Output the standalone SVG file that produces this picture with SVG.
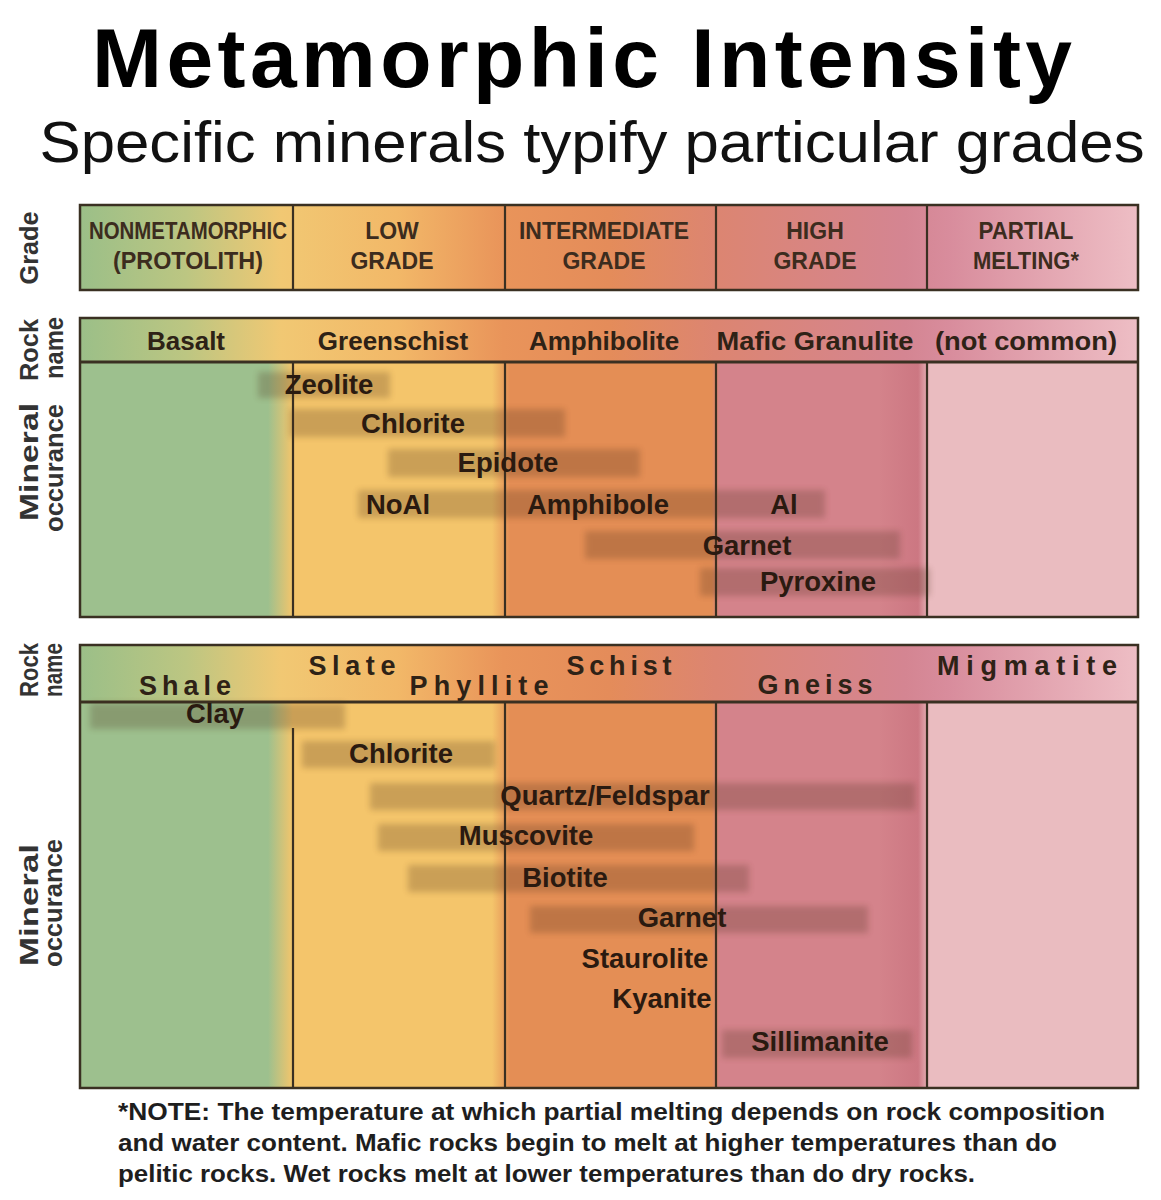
<svg xmlns="http://www.w3.org/2000/svg" width="1161" height="1200" viewBox="0 0 1161 1200">
<defs>
  <style>
    .ttl{font-family:"Liberation Sans",Arial,sans-serif;font-weight:bold;fill:#000}
    .sub{font-family:"Liberation Sans",Arial,sans-serif;fill:#111}
    .side{font-family:"Liberation Sans",Arial,sans-serif;font-weight:bold;font-size:26px;fill:#333;text-anchor:middle}
    .grade{font-family:"Liberation Sans",Arial,sans-serif;font-weight:bold;font-size:23px;fill:#3c2c1e;text-anchor:middle}
    .rock{font-family:"Liberation Sans",Arial,sans-serif;font-weight:bold;font-size:26px;fill:#2e2216;text-anchor:middle}
    .rock2{font-family:"Liberation Sans",Arial,sans-serif;font-weight:bold;font-size:27px;fill:#2e2216;text-anchor:middle}
    .min{font-family:"Liberation Sans",Arial,sans-serif;font-weight:bold;font-size:27.5px;fill:#2a1a10;text-anchor:middle}
    .note{font-family:"Liberation Sans",Arial,sans-serif;font-weight:bold;font-size:24.5px;fill:#1e1e1e}
    .frame{fill:none;stroke:#3a3022;stroke-width:2.5}
    .div{stroke:#3a3022;stroke-width:2.2}
    .sep{stroke:#3a3022;stroke-width:3}
    .bar{fill:#4a2a14;opacity:0.24}
  </style>
  <linearGradient id="hdr" gradientUnits="userSpaceOnUse" x1="80" y1="0" x2="1138" y2="0">
    <stop offset="0" stop-color="#9bbf88"/>
    <stop offset="0.10" stop-color="#bcc682"/>
    <stop offset="0.19" stop-color="#f1c873"/>
    <stop offset="0.30" stop-color="#f2b868"/>
    <stop offset="0.40" stop-color="#e9945a"/>
    <stop offset="0.50" stop-color="#e48c5a"/>
    <stop offset="0.60" stop-color="#dc8571"/>
    <stop offset="0.78" stop-color="#d48592"/>
    <stop offset="0.82" stop-color="#d88c9c"/>
    <stop offset="1" stop-color="#eebec5"/>
  </linearGradient>
  <linearGradient id="body" gradientUnits="userSpaceOnUse" x1="80" y1="0" x2="1138" y2="0">
    <stop offset="0" stop-color="#9dc08e"/>
    <stop offset="0.1777" stop-color="#9dc08e"/>
    <stop offset="0.2013" stop-color="#f4c56b"/>
    <stop offset="0.3894" stop-color="#f4c56b"/>
    <stop offset="0.4064" stop-color="#e48e55"/>
    <stop offset="0.5974" stop-color="#e48e55"/>
    <stop offset="0.6049" stop-color="#d4838b"/>
    <stop offset="0.755" stop-color="#d4838b"/>
    <stop offset="0.7921" stop-color="#cc7782"/>
    <stop offset="0.8034" stop-color="#eabcc0"/>
    <stop offset="1" stop-color="#eabcc0"/>
  </linearGradient>
  <filter id="blur" x="-20%" y="-60%" width="140%" height="220%">
    <feGaussianBlur stdDeviation="3"/>
  </filter>
</defs>

<rect x="0" y="0" width="1161" height="1200" fill="#ffffff"/>

<g id="title">
  <text class="ttl" x="582" y="87" font-size="84" text-anchor="middle" textLength="980" lengthAdjust="spacing">Metamorphic Intensity</text>
  <text class="sub" x="592" y="162" font-size="58" text-anchor="middle" textLength="1105" lengthAdjust="spacingAndGlyphs">Specific minerals typify particular grades</text>
</g>

<g id="side-labels">
  <text class="side" transform="translate(38,248) rotate(-90)" textLength="73" lengthAdjust="spacingAndGlyphs">Grade</text>
  <text class="side" transform="translate(38,350) rotate(-90)" textLength="62" lengthAdjust="spacingAndGlyphs">Rock</text>
  <text class="side" transform="translate(63,348) rotate(-90)" textLength="62" lengthAdjust="spacingAndGlyphs">name</text>
  <text class="side" transform="translate(38,462) rotate(-90)" textLength="118" lengthAdjust="spacingAndGlyphs">Mineral</text>
  <text class="side" transform="translate(63,468) rotate(-90)" textLength="128" lengthAdjust="spacingAndGlyphs">occurance</text>
  <text class="side" transform="translate(38,670) rotate(-90)" textLength="54" lengthAdjust="spacingAndGlyphs">Rock</text>
  <text class="side" transform="translate(62,670) rotate(-90)" textLength="54" lengthAdjust="spacingAndGlyphs">name</text>
  <text class="side" transform="translate(38,905) rotate(-90)" textLength="122" lengthAdjust="spacingAndGlyphs">Mineral</text>
  <text class="side" transform="translate(62,903) rotate(-90)" textLength="128" lengthAdjust="spacingAndGlyphs">occurance</text>
</g>

<!-- Grade row -->
<g id="grade-row">
  <rect x="80" y="205" width="1058" height="85" fill="url(#hdr)"/>
  <g id="grade-nonmetamorphic">
    <text class="grade" x="188" y="239" textLength="198" lengthAdjust="spacingAndGlyphs">NONMETAMORPHIC</text>
    <text class="grade" x="188" y="269" textLength="150" lengthAdjust="spacingAndGlyphs">(PROTOLITH)</text>
  </g>
  <g id="grade-low">
    <text class="grade" x="392" y="239">LOW</text>
    <text class="grade" x="392" y="269">GRADE</text>
  </g>
  <g id="grade-intermediate">
    <text class="grade" x="604" y="239" textLength="170" lengthAdjust="spacingAndGlyphs">INTERMEDIATE</text>
    <text class="grade" x="604" y="269">GRADE</text>
  </g>
  <g id="grade-high">
    <text class="grade" x="815" y="239">HIGH</text>
    <text class="grade" x="815" y="269">GRADE</text>
  </g>
  <g id="grade-partial">
    <text class="grade" x="1026" y="239" textLength="95" lengthAdjust="spacingAndGlyphs">PARTIAL</text>
    <text class="grade" x="1026" y="269" textLength="106" lengthAdjust="spacingAndGlyphs">MELTING*</text>
  </g>
</g>

<!-- Section 1: mafic -->
<g id="mafic-section">
  <rect x="80" y="318" width="1058" height="44" fill="url(#hdr)"/>
  <rect x="80" y="362" width="1058" height="255" fill="url(#body)"/>
  <g id="mafic-rocknames">
    <text class="rock" x="186" y="350">Basalt</text>
    <text class="rock" x="393" y="350">Greenschist</text>
    <text class="rock" x="604" y="350">Amphibolite</text>
    <text class="rock" x="815" y="350" textLength="197" lengthAdjust="spacingAndGlyphs">Mafic Granulite</text>
    <text class="rock" x="1026" y="350" textLength="182" lengthAdjust="spacingAndGlyphs">(not common)</text>
  </g>
</g>

<!-- Section 2: pelitic -->
<g id="pelitic-section">
  <rect x="80" y="645" width="1058" height="57" fill="url(#hdr)"/>
  <rect x="80" y="702" width="1058" height="386" fill="url(#body)"/>
  <g id="pelitic-rocknames">
    <text class="rock2" x="185" y="695" textLength="92" lengthAdjust="spacing">Shale</text>
    <text class="rock2" x="352" y="675" textLength="87" lengthAdjust="spacing">Slate</text>
    <text class="rock2" x="479" y="695" textLength="139" lengthAdjust="spacing">Phyllite</text>
    <text class="rock2" x="619" y="675" textLength="105" lengthAdjust="spacing">Schist</text>
    <text class="rock2" x="815" y="694" textLength="115" lengthAdjust="spacing">Gneiss</text>
    <text class="rock2" x="1027" y="675" textLength="180" lengthAdjust="spacing">Migmatite</text>
  </g>
</g>

<!-- grid lines / connectors -->
<g id="connectors">
  <rect class="frame" x="80" y="205" width="1058" height="85"/>
  <line class="div" x1="293" y1="205" x2="293" y2="290"/>
  <line class="div" x1="505" y1="205" x2="505" y2="290"/>
  <line class="div" x1="716" y1="205" x2="716" y2="290"/>
  <line class="div" x1="927" y1="205" x2="927" y2="290"/>

  <rect class="frame" x="80" y="318" width="1058" height="299"/>
  <line class="sep" x1="80" y1="362" x2="1138" y2="362"/>
  <line class="div" x1="293" y1="362" x2="293" y2="617"/>
  <line class="div" x1="505" y1="362" x2="505" y2="617"/>
  <line class="div" x1="716" y1="362" x2="716" y2="617"/>
  <line class="div" x1="927" y1="362" x2="927" y2="617"/>

  <rect class="frame" x="80" y="645" width="1058" height="443"/>
  <line class="sep" x1="80" y1="702" x2="1138" y2="702"/>
  <line class="div" x1="293" y1="728" x2="293" y2="1088"/>
  <line class="div" x1="505" y1="702" x2="505" y2="1088"/>
  <line class="div" x1="716" y1="702" x2="716" y2="1088"/>
  <line class="div" x1="927" y1="702" x2="927" y2="1088"/>
</g>

<!-- mineral bars, section 1 -->
<g id="mafic-minerals">
  <g id="m-zeolite">
    <rect class="bar" x="258" y="372" width="132" height="26" filter="url(#blur)"/>
    <text class="min" x="329" y="394">Zeolite</text>
  </g>
  <g id="m-chlorite">
    <rect class="bar" x="290" y="409" width="275" height="28" filter="url(#blur)"/>
    <text class="min" x="413" y="433">Chlorite</text>
  </g>
  <g id="m-epidote">
    <rect class="bar" x="388" y="449" width="252" height="28" filter="url(#blur)"/>
    <text class="min" x="508" y="472">Epidote</text>
  </g>
  <g id="m-amphibole">
    <rect class="bar" x="358" y="490" width="467" height="28" filter="url(#blur)"/>
    <text class="min" x="398" y="514">NoAl</text>
    <text class="min" x="598" y="514">Amphibole</text>
    <text class="min" x="784" y="514">Al</text>
  </g>
  <g id="m-garnet">
    <rect class="bar" x="585" y="531" width="315" height="28" filter="url(#blur)"/>
    <text class="min" x="747" y="555">Garnet</text>
  </g>
  <g id="m-pyroxine">
    <rect class="bar" x="700" y="568" width="230" height="28" filter="url(#blur)"/>
    <text class="min" x="818" y="591">Pyroxine</text>
  </g>
</g>

<!-- mineral bars, section 2 -->
<g id="pelitic-minerals">
  <g id="p-clay">
    <rect class="bar" x="90" y="703" width="255" height="26" filter="url(#blur)"/>
    <text class="min" x="215" y="723">Clay</text>
  </g>
  <g id="p-chlorite">
    <rect class="bar" x="302" y="741" width="193" height="27" filter="url(#blur)"/>
    <text class="min" x="401" y="763">Chlorite</text>
  </g>
  <g id="p-quartz">
    <rect class="bar" x="370" y="783" width="545" height="27" filter="url(#blur)"/>
    <text class="min" x="605" y="805">Quartz/Feldspar</text>
  </g>
  <g id="p-muscovite">
    <rect class="bar" x="378" y="824" width="316" height="27" filter="url(#blur)"/>
    <text class="min" x="526" y="845">Muscovite</text>
  </g>
  <g id="p-biotite">
    <rect class="bar" x="408" y="865" width="341" height="27" filter="url(#blur)"/>
    <text class="min" x="565" y="887">Biotite</text>
  </g>
  <g id="p-garnet">
    <rect class="bar" x="530" y="906" width="338" height="27" filter="url(#blur)"/>
    <text class="min" x="682" y="927">Garnet</text>
  </g>
  <g id="p-staurolite">
    <text class="min" x="645" y="968">Staurolite</text>
  </g>
  <g id="p-kyanite">
    <text class="min" x="662" y="1008">Kyanite</text>
  </g>
  <g id="p-sillimanite">
    <rect class="bar" x="722" y="1030" width="190" height="28" filter="url(#blur)"/>
    <text class="min" x="820" y="1051">Sillimanite</text>
  </g>
</g>

<g id="note">
  <text class="note" x="118" y="1120" textLength="987" lengthAdjust="spacingAndGlyphs">*NOTE: The temperature at which partial melting depends on rock composition</text>
  <text class="note" x="118" y="1151" textLength="939" lengthAdjust="spacingAndGlyphs">and water content. Mafic rocks begin to melt at higher temperatures than do</text>
  <text class="note" x="118" y="1182" textLength="857" lengthAdjust="spacingAndGlyphs">pelitic rocks. Wet rocks melt at lower temperatures than do dry rocks.</text>
</g>
</svg>
